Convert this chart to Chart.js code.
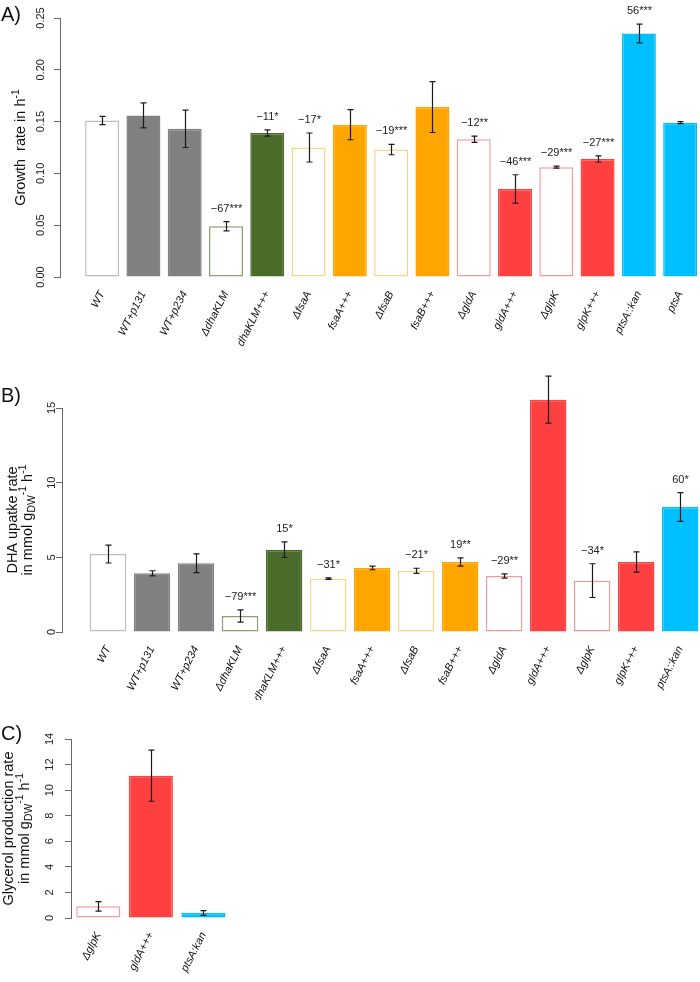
<!DOCTYPE html>
<html lang="en">
<head>
<meta charset="UTF-8">
<title>Growth, DHA uptake and glycerol production</title>
<script src="https://cdn.jsdelivr.net/npm/chart.js"></script>
<style>
    body { margin: 0; background: #fff; }
    .panel { position: absolute; left: 0; }
    #wrapA { top: 0; }
    #wrapB { top: 370px; }
    #wrapC { top: 700px; }
</style>
</head>
<body>
<div class="panel" id="wrapA"><canvas id="chartA" width="700" height="370"></canvas></div>
<div class="panel" id="wrapB"><canvas id="chartB" width="700" height="330"></canvas></div>
<div class="panel" id="wrapC"><canvas id="chartC" width="700" height="282"></canvas></div>

<script>
    // Panel A - growth rate (h-1)
    const labelsA = ['WT', 'WT+p131', 'WT+p234', 'ΔdhaKLM', 'dhaKLM+++', 'ΔfsaA', 'fsaA+++', 'ΔfsaB', 'fsaB+++',
        'ΔgldA', 'gldA+++', 'ΔglpK', 'glpK+++', 'ptsA::kan', 'ptsA'];
    const growthA = [0.151, 0.156, 0.143, 0.049, 0.139, 0.125, 0.147, 0.123, 0.164, 0.133, 0.085, 0.106, 0.114, 0.235, 0.149];
    const growthErrA = [0.004, 0.012, 0.018, 0.0045, 0.003, 0.014, 0.0145, 0.005, 0.0245, 0.003, 0.0137, 0.001, 0.003, 0.009, 0.001];
    const sigA = ['', '', '', '−67***', '−11*', '−17*', '', '−19***', '', '−12**', '−46***', '−29***', '−27***', '56***', ''];
    const yTicksA = [0, 0.05, 0.10, 0.15, 0.20, 0.25];

    // Panel B - DHA uptake rate
    const labelsB = ['WT', 'WT+p131', 'WT+p234', 'ΔdhaKLM', 'dhaKLM+++', 'ΔfsaA', 'fsaA+++', 'ΔfsaB', 'fsaB+++',
        'ΔgldA', 'gldA+++', 'ΔglpK', 'glpK+++', 'ptsA::kan'];
    const uptakeB = [5.22, 3.93, 4.60, 1.07, 5.51, 3.57, 4.29, 4.10, 4.69, 3.75, 15.56, 3.44, 4.69, 8.37];
    const uptakeErrB = [0.60, 0.17, 0.63, 0.41, 0.52, 0.05, 0.12, 0.17, 0.28, 0.14, 1.57, 1.13, 0.68, 0.96];
    const sigB = ['', '', '', '−79***', '15*', '−31*', '', '−21*', '19**', '−29**', '224***', '−34*', '', '60*'];
    const yTicksB = [0, 5, 10, 15];

    // Panel C - glycerol production rate
    const labelsC = ['ΔglpK', 'gldA+++', 'ptsA:kan'];
    const glycerolC = [0.91, 11.13, 0.39];
    const glycerolErrC = [0.37, 2.0, 0.18];
    const sigC = ['', '', ''];
    const yTicksC = [0, 2, 4, 6, 8, 10, 12, 14];

    const FONT = '"Liberation Sans", Arial, Helvetica, sans-serif';

    // colour by gene group, open bars for WT and deletions
    function groupColor(label) {
        if (/^WT/.test(label)) return '#808080';
        if (/dha/.test(label)) return '#4a6b2a';
        if (/fsa/.test(label)) return '#ffa500';
        if (/gl[dp]/.test(label)) return '#ff4040';
        return '#00bfff';
    }
    const openBorder = { '#808080': '#bdbdbd', '#4a6b2a': '#8aa070', '#ffa500': '#ffd27f', '#ff4040': '#f59a9a', '#00bfff': '#80dfff' };

    function barStyle(label) {
        const c = groupColor(label);
        const open = label === 'WT' || label.startsWith('Δ');
        return open ? { fill: '#ffffff', border: openBorder[c] } : { fill: c, border: c };
    }

    // rotated text with sub/superscripts, read bottom to top
    function drawVertical(ctx, x, y, runs, size) {
        ctx.save();
        ctx.translate(x, y);
        ctx.rotate(-Math.PI / 2);
        ctx.textBaseline = 'alphabetic';
        ctx.textAlign = 'left';
        const fontFor = r => (r[1] ? size * 0.72 : size) + 'px ' + FONT;
        let total = 0;
        runs.forEach(r => { ctx.font = fontFor(r); total += ctx.measureText(r[0]).width; });
        let cx = -total / 2;
        const base = size * 0.36;
        runs.forEach(r => {
            ctx.font = fontFor(r);
            const dy = r[1] === 1 ? -size * 0.42 : r[1] === -1 ? size * 0.22 : 0;
            ctx.fillStyle = '#111';
            ctx.fillText(r[0], cx, base + dy);
            cx += ctx.measureText(r[0]).width;
        });
        ctx.restore();
    }

    const unitRuns = [['in mmol g', 0], ['DW', -1], ['-1', 1], [' h', 0], ['-1', 1]];

    function noPadding(s) {
        s.paddingLeft = 0; s.paddingRight = 0; s.paddingTop = 0; s.paddingBottom = 0;
    }

    function buildChart(id, o) {
        const styles = o.labels.map(barStyle);
        return new Chart(document.getElementById(id), {
            type: 'bar',
            data: {
                datasets: [{
                    data: o.values.map((v, i) => ({ x: i, y: v })),
                    backgroundColor: styles.map(s => s.fill),
                    borderColor: styles.map(s => s.border),
                    borderWidth: 1.5,
                    borderSkipped: false,
                    barPercentage: o.barPct,
                    categoryPercentage: 1,
                    clip: false
                }]
            },
            options: {
                responsive: false,
                animation: false,
                layout: { padding: o.pad },
                plugins: { legend: { display: false }, tooltip: { enabled: false } },
                scales: {
                    x: {
                        type: 'linear',
                        offset: false,
                        min: o.xMin,
                        max: o.xMax,
                        grid: { display: false, drawTicks: false, offset: false },
                        border: { display: false },
                        afterBuildTicks: s => { s.ticks = o.labels.map((_, i) => ({ value: i })); },
                        afterFit: s => { s.height = o.xAxisH; noPadding(s); },
                        ticks: {
                            autoSkip: false,
                            minRotation: 63,
                            maxRotation: 63,
                            padding: 12,
                            color: '#111',
                            font: { family: FONT, size: 11, style: 'italic' },
                            callback: v => o.labels[v]
                        }
                    },
                    y: {
                        min: 0,
                        max: o.yTicks[o.yTicks.length - 1],
                        afterBuildTicks: s => { s.ticks = o.yTicks.map(v => ({ value: v })); },
                        afterFit: s => { s.width = o.yAxisW; noPadding(s); },
                        grid: { drawOnChartArea: false, drawTicks: true, tickLength: 6, color: '#666' },
                        border: { display: true, color: '#666' },
                        ticks: {
                            minRotation: 90,
                            maxRotation: 90,
                            crossAlign: 'center',
                            padding: o.yPad,
                            color: '#222',
                            font: { family: FONT, size: 11 },
                            callback: v => o.tickFmt(v)
                        }
                    }
                }
            },
            plugins: [{
                id: 'errbars',
                afterDatasetsDraw(chart) {
                    const { ctx, scales: { x, y } } = chart;
                    ctx.save();
                    ctx.strokeStyle = '#1a1a1a';
                    ctx.lineWidth = 1.2;
                    ctx.fillStyle = '#222';
                    ctx.font = '11px ' + FONT;
                    ctx.textAlign = 'center';
                    ctx.textBaseline = 'middle';
                    o.values.forEach((v, i) => {
                        const px = Math.round(x.getPixelForValue(i)) + 0.5;
                        const top = y.getPixelForValue(v + o.errs[i]);
                        const bot = y.getPixelForValue(v - o.errs[i]);
                        ctx.beginPath();
                        ctx.moveTo(px, top); ctx.lineTo(px, bot);
                        ctx.moveTo(px - 3, top); ctx.lineTo(px + 3, top);
                        ctx.moveTo(px - 3, bot); ctx.lineTo(px + 3, bot);
                        ctx.stroke();
                        if (o.sig[i]) ctx.fillText(o.sig[i], px, top - 13);
                    });
                    ctx.restore();
                }
            }, {
                id: 'titles',
                afterDraw(chart) {
                    const { ctx, chartArea } = chart;
                    const mid = (chartArea.top + chartArea.bottom) / 2;
                    ctx.save();
                    ctx.fillStyle = '#111';
                    ctx.font = '20px ' + FONT;
                    ctx.textAlign = 'left';
                    ctx.textBaseline = 'alphabetic';
                    ctx.fillText(o.letter, 1, o.letterY);
                    ctx.restore();
                    o.titleLines.forEach(line => drawVertical(ctx, line.x, mid, line.runs, 14.5));
                }
            }]
        });
    }

    buildChart('chartA', {
        labels: labelsA, values: growthA, errs: growthErrA, sig: sigA, yTicks: yTicksA,
        tickFmt: v => v.toFixed(2),
        xMin: -1.02, xMax: 14.48, barPct: 0.823,
        pad: { top: 18, left: 0, right: 0, bottom: 0 }, yAxisW: 60, xAxisH: 93, yPad: 2,
        letter: 'A)', letterY: 21,
        titleLines: [{ x: 20, runs: [['Growth  rate in h', 0], ['-1', 1]] }]
    });

    buildChart('chartB', {
        labels: labelsB, values: uptakeB, errs: uptakeErrB, sig: sigB, yTicks: yTicksB,
        tickFmt: v => String(v),
        xMin: -1.045, xMax: 13.45, barPct: 0.83,
        pad: { top: 38, left: 0, right: 0, bottom: 0 }, yAxisW: 62, xAxisH: 68, yPad: -2,
        letter: 'B)', letterY: 32,
        titleLines: [{ x: 12, runs: [['DHA upatke rate', 0]] }, { x: 27, runs: unitRuns }]
    });

    buildChart('chartC', {
        labels: labelsC, values: glycerolC, errs: glycerolErrC, sig: sigC, yTicks: yTicksC,
        tickFmt: v => String(v),
        xMin: -0.52, xMax: 2.6, barPct: 0.838,
        pad: { top: 39, left: 0, right: 465, bottom: 0 }, yAxisW: 71, xAxisH: 64, yPad: 9,
        letter: 'C)', letterY: 40,
        titleLines: [{ x: 8, runs: [['Glycerol production rate', 0]] }, { x: 24, runs: unitRuns }]
    });
</script>
</body>
</html>
